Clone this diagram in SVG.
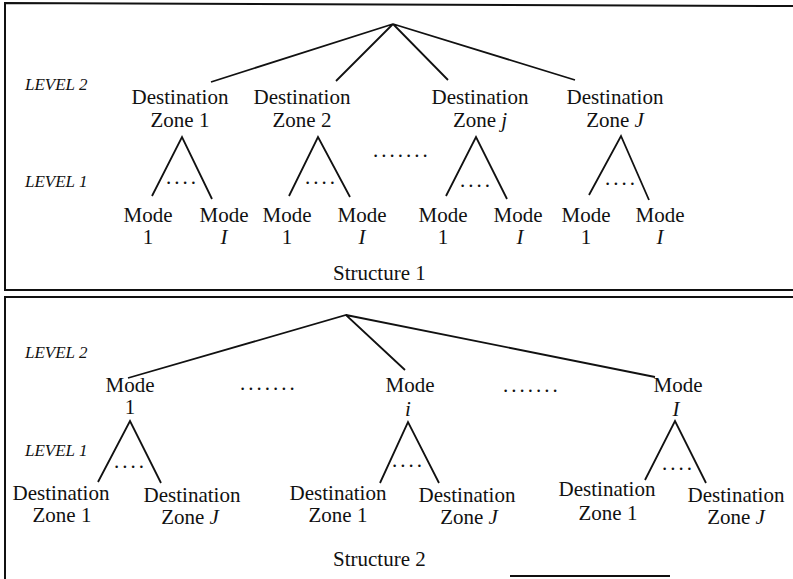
<svg xmlns="http://www.w3.org/2000/svg" width="793" height="579" viewBox="0 0 793 579" font-family="'Liberation Serif', 'DejaVu Serif', serif">
<style>
text{font-family:'Liberation Serif','DejaVu Serif',serif;font-size:21px;fill:#111}
.t{text-anchor:middle}
.lv{font-size:17px;font-style:italic}
.it{font-style:italic}
.dots{letter-spacing:3px}
.ln{stroke:#111;stroke-width:1.8;fill:none}
.bx{stroke:#111;stroke-width:2;fill:none}
</style>
<rect width="793" height="579" fill="#fff"/>
<g id="frames">
<path class="bx" d="M793,6 L5,3 L5,290 L793,290"/>
<path class="bx" d="M793,297 L5,297 L5,579"/>
<line class="bx" x1="510" y1="576" x2="670" y2="576" stroke-width="1.5"/>
</g>
<g id="connectors">
<path class="ln" d="M211,82 L393,24 L336,81 M393,24 L448,80 M393,24 L575,80"/>
<path class="ln" d="M152,196 L182,137 L212,199"/>
<path class="ln" d="M289,196 L318,137 L350,197"/>
<path class="ln" d="M446,196 L476,137 L507,199"/>
<path class="ln" d="M589,195 L621,136 L649,200"/>
<path class="ln" d="M128,378 L346,315 L405,370 M346,315 L655,377"/>
<path class="ln" d="M98,482 L130,421 L161,483"/>
<path class="ln" d="M380,483 L408,422 L439,483"/>
<path class="ln" d="M645,480 L675,421 L706,483"/>
</g>
<g id="s1-labels">
<text class="lv" x="25" y="90">LEVEL 2</text>
<text class="lv" x="25" y="187">LEVEL 1</text>
<text class="dots" x="373" y="157">.......</text>
<text x="333" y="280">Structure 1</text>
</g>
<g id="s1-dz1">
<text class="t" x="180" y="104">Destination</text><text class="t" x="180" y="127">Zone 1</text>
<text class="dots" x="166" y="184">....</text>
<text class="t" x="148" y="222">Mode</text><text class="t" x="148" y="244">1</text>
<text class="t" x="224" y="222">Mode</text><text class="t it" x="224" y="244">I</text>
</g>
<g id="s1-dz2">
<text class="t" x="302" y="104">Destination</text><text class="t" x="302" y="127">Zone 2</text>
<text class="dots" x="305" y="184">....</text>
<text class="t" x="287" y="222">Mode</text><text class="t" x="287" y="244">1</text>
<text class="t" x="362" y="222">Mode</text><text class="t it" x="362" y="244">I</text>
</g>
<g id="s1-dzj">
<text class="t" x="480" y="104">Destination</text><text class="t" x="480" y="127">Zone <tspan class="it">j</tspan></text>
<text class="dots" x="460" y="187">....</text>
<text class="t" x="443" y="222">Mode</text><text class="t" x="443" y="244">1</text>
<text class="t" x="518" y="222">Mode</text><text class="t it" x="520" y="244">I</text>
</g>
<g id="s1-dzJ">
<text class="t" x="615" y="104">Destination</text><text class="t" x="615" y="127">Zone <tspan class="it">J</tspan></text>
<text class="dots" x="605" y="185">....</text>
<text class="t" x="586" y="222">Mode</text><text class="t" x="586" y="244">1</text>
<text class="t" x="660" y="222">Mode</text><text class="t it" x="660" y="244">I</text>
</g>
<g id="s2-labels">
<text class="lv" x="25" y="358">LEVEL 2</text>
<text class="lv" x="25" y="456">LEVEL 1</text>
<text class="dots" x="240" y="390">.......</text>
<text class="dots" x="503" y="392">.......</text>
<text x="333" y="566">Structure 2</text>
</g>
<g id="s2-mode1">
<text class="t" x="130" y="392">Mode</text><text class="t" x="130" y="414">1</text>
<text class="dots" x="114" y="468">....</text>
<text class="t" x="61" y="500">Destination</text><text class="t" x="62" y="522">Zone 1</text>
<text class="t" x="192" y="502">Destination</text><text class="t" x="190" y="524">Zone <tspan class="it">J</tspan></text>
</g>
<g id="s2-modei">
<text class="t" x="410" y="392">Mode</text><text class="t it" x="408" y="416">i</text>
<text class="dots" x="392" y="467">....</text>
<text class="t" x="338" y="500">Destination</text><text class="t" x="338" y="522">Zone 1</text>
<text class="t" x="467" y="502">Destination</text><text class="t" x="469" y="524">Zone <tspan class="it">J</tspan></text>
</g>
<g id="s2-modeI">
<text class="t" x="678" y="392">Mode</text><text class="t it" x="676" y="416">I</text>
<text class="dots" x="662" y="470">....</text>
<text class="t" x="607" y="496">Destination</text><text class="t" x="608" y="520">Zone 1</text>
<text class="t" x="736" y="502">Destination</text><text class="t" x="736" y="524">Zone <tspan class="it">J</tspan></text>
</g>
</svg>
